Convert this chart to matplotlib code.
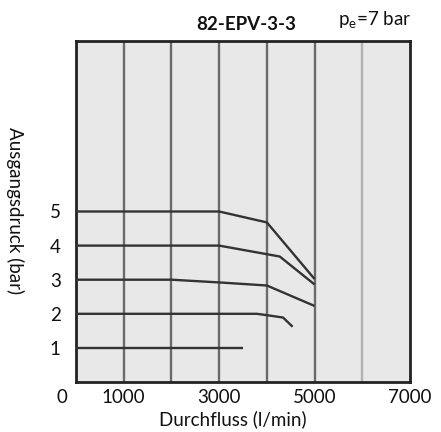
"""
Druckregler-Kennlinie 82-EPV-3-3
"""
import matplotlib.pyplot as plt
import matplotlib.transforms as mtransforms

plt.rcParams['font.family'] = ['Lato', 'DejaVu Sans']

# Kennlinien: Durchfluss (l/min) / Ausgangsdruck (bar)
q_5bar = [0, 3000, 4000, 5000]
p_5bar = [5.0, 5.0, 4.68, 3.02]
q_4bar = [0, 3000, 4270, 5000]
p_4bar = [4.0, 4.0, 3.68, 2.86]
q_3bar = [0, 2000, 3000, 4000, 5000]
p_3bar = [3.0, 3.0, 2.92, 2.83, 2.23]
q_2bar = [0, 3790, 4000, 4340, 4540]
p_2bar = [2.0, 2.0, 1.96, 1.89, 1.62]
q_1bar = [0, 3510]
p_1bar = [1.0, 1.0]

xticks = [0, 1000, 3000, 5000, 7000]
xticklabels = ['0', '1000', '3000', '5000', '7000']
yticks = [1, 2, 3, 4, 5]
gridpos = [1000, 2000, 3000, 4000, 5000, 6000]

fs = 13.5

fig = plt.figure(figsize=(4.41, 4.32), dpi=100)
ax = fig.add_axes([76/441, 1-382/432, 334/441, 341/432])
ax.set_facecolor('#e8e8e8')
ax.set_xlim(0, 7000)
ax.set_ylim(0, 10)

# senkrechte Gitterlinien
for g in gridpos:
    c = '#b0b0b0' if g == 6000 else '#6a6a6a'
    ax.axvline(g, color=c, lw=1.7, zorder=1)

for q, p in [(q_5bar, p_5bar), (q_4bar, p_4bar), (q_3bar, p_3bar),
             (q_2bar, p_2bar), (q_1bar, p_1bar)]:
    ax.plot(q, p, color='#333333', lw=1.7, zorder=3, solid_capstyle='butt')

for s in ax.spines.values():
    s.set_linewidth(2.0)
    s.set_color('#222222')

ax.set_xticks(xticks)
ax.set_xticklabels(xticklabels)
ax.set_yticks(yticks)
ax.tick_params(length=0, labelsize=fs, pad=5, colors='#111111')
ax.tick_params(axis='y', pad=11)
# "0" links neben die Achse schieben
lbl0 = ax.get_xticklabels()[0]
lbl0.set_transform(lbl0.get_transform() + mtransforms.ScaledTranslation(-0.14, 0, fig.dpi_scale_trans))

ax.set_xlabel('Durchfluss (l/min)', fontsize=fs, color='#111111', va='center')
ax.xaxis.set_label_coords(0.47, -0.108)
fig.text(15/441, 1-211/432, 'Ausgangsdruck (bar)', rotation=-90, fontsize=fs,
         ha='center', va='center', color='#111111')
fig.text(246/441, 1-25/432, '82-EPV-3-3', fontsize=fs, fontweight='bold',
         ha='center', va='center', color='#111111')
fig.text(411/441, 1-20/432, 'p$_\\mathregular{e}$=7 bar', fontsize=fs,
         ha='right', va='center', color='#111111')

plt.savefig('out.png', dpi=100)
plt.close()
